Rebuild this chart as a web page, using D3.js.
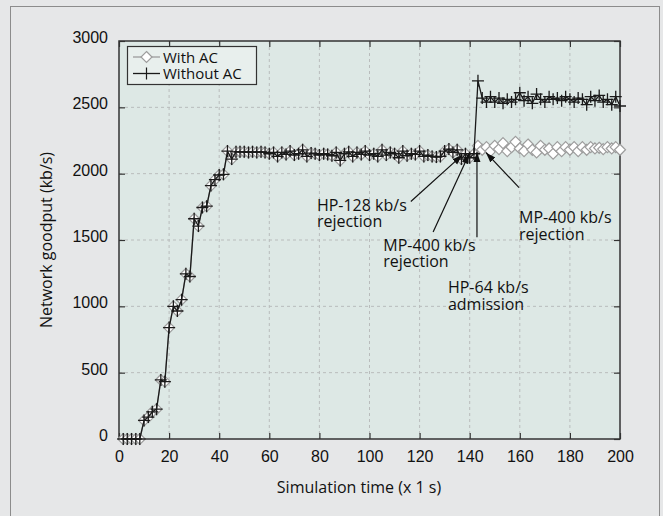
<!DOCTYPE html>
<html>
<head>
<meta charset="utf-8">
<script src="https://cdn.jsdelivr.net/npm/d3@7"></script>
<style>
  body { margin: 0; background: #e6e7e8; }
  svg { display: block; font-family: "Open Sans", "Noto Sans", sans-serif; }
</style>
</head>
<body>
<div id="chart"></div>
<script>
const W = 663, H = 516;
const margin = { top: 41, right: 43, bottom: 77, left: 119 };
const width = W - margin.left - margin.right;
const height = H - margin.top - margin.bottom;
const fontSize = "16px";

// sample times (s)
const times = [1.7, 3.3, 5, 6.7, 8.3, 10, 11.7, 13.3, 15, 16.7, 18.3, 20, 21.7, 23.3, 25, 26.7, 28.3, 30, 31.7, 33.3, 35, 36.7, 38.3, 40, 41.7, 43.3, 45, 46.7, 48.3, 50,
  51.7, 53.3, 55, 56.7, 58.3, 60, 61.7, 63.3, 65, 66.7, 68.3, 70, 71.7, 73.3, 75, 76.7, 78.3, 80, 81.7, 83.3, 85, 86.7, 88.3, 90, 91.7, 93.3, 95, 96.7, 98.3, 100,
  101.7, 103.3, 105, 106.7, 108.3, 110, 111.7, 113.3, 115, 116.7, 118.3, 120, 121.7, 123.3, 125, 126.7, 128.3, 130, 131.7, 133.3, 135, 136.7, 138.3, 140, 141.7,
  143.3, 145, 146.7, 148.3, 150, 151.7, 153.3, 155, 156.7, 158.3, 160, 161.7, 163.3, 165, 166.7, 168.3, 170, 171.7, 173.3, 175, 176.7, 178.3, 180,
  181.7, 183.3, 185, 186.7, 188.3, 190, 191.7, 193.3, 195, 196.7, 198.3, 200];

// goodput up to t = 141.7 s, identical for both cases
const sharedGoodput = [0, 0, 0, 0, 0, 140, 165, 205, 225, 445, 432, 840, 1000, 965, 1050, 1245, 1225, 1660, 1605, 1745, 1755, 1910, 1955, 1990, 1995, 2170, 2110, 2165, 2165, 2165,
  2160, 2165, 2160, 2165, 2160, 2150, 2160, 2130, 2160, 2145, 2170, 2140, 2150, 2180, 2130, 2155, 2150, 2140, 2150, 2145, 2135, 2160, 2100, 2150, 2165, 2130, 2160, 2145, 2170, 2140,
  2150, 2130, 2180, 2140, 2160, 2150, 2120, 2170, 2135, 2150, 2145, 2170, 2130, 2140, 2130, 2125, 2130, 2170, 2185, 2160, 2180, 2110, 2150, 2120, 2150];

// after t = 141.7 s
const withoutACTail = [2700, 2570, 2540, 2580, 2540, 2570, 2530, 2560, 2540, 2560, 2610, 2550, 2580, 2530, 2600, 2560, 2540, 2580, 2560, 2570, 2550, 2580, 2560,
  2540, 2570, 2560, 2520, 2580, 2550, 2590, 2540, 2560, 2520, 2580, 2510];
const withACTail = [2210, 2180, 2200, 2170, 2210, 2185, 2230, 2170, 2200, 2240, 2190, 2170, 2220, 2180, 2160, 2210, 2180, 2190, 2150, 2200, 2170, 2200, 2180,
  2200, 2170, 2200, 2180, 2200, 2190, 2195, 2185, 2200, 2190, 2200, 2180];

const xTicks = [0, 20, 40, 60, 80, 100, 120, 140, 160, 180, 200];
const yTicks = [0, 500, 1000, 1500, 2000, 2500, 3000];

const seriesNames = ["With AC", "Without AC"];

const annotations = [
  { lines: ["HP-128 kb/s", "rejection"], tx: 79, ty: 1720, from: [116.5, 1790], to: [137, 2140] },
  { lines: ["MP-400 kb/s", "rejection"], tx: 105.5, ty: 1418, from: [125.4, 1560], to: [139.8, 2150] },
  { lines: ["HP-64 kb/s", "admission"], tx: 131.3, ty: 1100, from: [142.9, 1520], to: [142.9, 2163] },
  { lines: ["MP-400 kb/s", "rejection"], tx: 159.7, ty: 1628, from: [159.7, 1895], to: [146.5, 2158] }
];

const withoutAC = times.map((t, i) => ({ t: t, v: i < sharedGoodput.length ? sharedGoodput[i] : withoutACTail[i - sharedGoodput.length] }));
const withAC = times.map((t, i) => ({ t: t, v: i < sharedGoodput.length ? sharedGoodput[i] : withACTail[i - sharedGoodput.length] }));

const x = d3.scaleLinear().domain([0, 200]).range([0, width]);
const y = d3.scaleLinear().domain([0, 3000]).range([height, 0]);

const svg = d3.select("#chart").append("svg")
  .attr("width", W)
  .attr("height", H);

// outer frame
svg.append("rect")
  .attr("x", 10.5).attr("y", 6.5)
  .attr("width", 649).attr("height", H)
  .attr("fill", "#e6e7e8")
  .attr("stroke", "#8c8c8c");

svg.append("defs").append("marker")
  .attr("id", "arrow")
  .attr("markerUnits", "userSpaceOnUse")
  .attr("markerWidth", 11).attr("markerHeight", 8)
  .attr("refX", 10).attr("refY", 3.5)
  .attr("orient", "auto")
  .append("path")
  .attr("d", "M0,0 L10,3.5 L0,7 Z")
  .attr("fill", "#111");

const g = svg.append("g")
  .attr("transform", `translate(${margin.left},${margin.top})`);

g.append("rect")
  .attr("width", width).attr("height", height)
  .attr("fill", "#dde8e5");

// grid
g.append("g").selectAll("line")
  .data(xTicks.slice(1, -1))
  .enter().append("line")
  .attr("x1", d => x(d)).attr("x2", d => x(d))
  .attr("y1", 0).attr("y2", height)
  .attr("stroke", "#b9bcbc").attr("stroke-dasharray", "3,3");
g.append("g").selectAll("line")
  .data(yTicks.slice(1, -1))
  .enter().append("line")
  .attr("y1", d => y(d)).attr("y2", d => y(d))
  .attr("x1", 0).attr("x2", width)
  .attr("stroke", "#b9bcbc").attr("stroke-dasharray", "3,3");

// axes, ticks pointing inward on all sides
const axisColor = "#333";
function styleAxis(sel) {
  sel.select(".domain").remove();
  sel.selectAll(".tick line").attr("stroke", axisColor).attr("stroke-width", 1.2);
  sel.selectAll(".tick text").attr("fill", "#111").style("font-size", fontSize);
}
g.append("g")
  .attr("transform", `translate(0,${height})`)
  .call(d3.axisBottom(x).tickValues(xTicks).tickSizeInner(-6).tickSizeOuter(0).tickPadding(12))
  .call(styleAxis);
g.append("g")
  .call(d3.axisTop(x).tickValues(xTicks).tickSizeInner(-6).tickSizeOuter(0).tickFormat(""))
  .call(styleAxis);
g.append("g")
  .call(d3.axisLeft(y).tickValues(yTicks).tickSizeInner(-6).tickSizeOuter(0).tickPadding(11).tickFormat(d3.format("d")))
  .call(styleAxis)
  .selectAll(".tick text").attr("dy", "0.1em");
g.append("g")
  .attr("transform", `translate(${width},0)`)
  .call(d3.axisRight(y).tickValues(yTicks).tickSizeInner(-6).tickSizeOuter(0).tickFormat(""))
  .call(styleAxis);

g.append("rect")
  .attr("width", width).attr("height", height)
  .attr("fill", "none")
  .attr("stroke", axisColor).attr("stroke-width", 1.5);

const line = d3.line().x(d => x(d.t)).y(d => y(d.v));
const diamond = "M0,-5.5 L5.5,0 L0,5.5 L-5.5,0 Z";
const plus = "M-6,0 H6 M0,-6 V6";

// With AC (gray, diamonds)
g.append("path")
  .datum(withAC)
  .attr("d", line)
  .attr("fill", "none")
  .attr("stroke", "#9d9d9d")
  .attr("stroke-width", 1.3);
g.append("g").selectAll("path")
  .data(withAC)
  .enter().append("path")
  .attr("transform", d => `translate(${x(d.t)},${y(d.v)})`)
  .attr("d", diamond)
  .attr("fill", "#fff")
  .attr("stroke", "#9d9d9d")
  .attr("stroke-width", 1.2);

// Without AC (black, plus)
g.append("path")
  .datum(withoutAC)
  .attr("d", line)
  .attr("fill", "none")
  .attr("stroke", "#1a1a1a")
  .attr("stroke-width", 1.3);
g.append("g").selectAll("path")
  .data(withoutAC)
  .enter().append("path")
  .attr("transform", d => `translate(${x(d.t)},${y(d.v)})`)
  .attr("d", plus)
  .attr("stroke", "#1a1a1a")
  .attr("stroke-width", 1.3);

// annotations
const ann = g.append("g").style("font-size", fontSize).attr("fill", "#111");
annotations.forEach(a => {
  ann.append("line")
    .attr("x1", x(a.from[0])).attr("y1", y(a.from[1]))
    .attr("x2", x(a.to[0])).attr("y2", y(a.to[1]))
    .attr("stroke", "#111").attr("stroke-width", 1.2)
    .attr("marker-end", "url(#arrow)");
  const txt = ann.append("text")
    .attr("x", x(a.tx)).attr("y", y(a.ty));
  a.lines.forEach((l, i) => {
    txt.append("tspan")
      .attr("x", x(a.tx))
      .attr("dy", i === 0 ? 0 : 16.5)
      .text(l);
  });
});

// legend
const legend = svg.append("g").attr("transform", "translate(127,46)");
legend.append("rect")
  .attr("x", 0.5).attr("y", 0.5)
  .attr("width", 129).attr("height", 38)
  .attr("fill", "#e8efed")
  .attr("stroke", "#333").attr("stroke-width", 1.2);
const rows = legend.selectAll(".row")
  .data(seriesNames)
  .enter().append("g")
  .attr("class", "row")
  .attr("transform", (d, i) => `translate(0,${11 + i * 16.5})`);
rows.append("line")
  .attr("x1", 6).attr("x2", 33)
  .attr("stroke", (d, i) => i === 0 ? "#9d9d9d" : "#1a1a1a")
  .attr("stroke-width", 1.3);
rows.append("path")
  .attr("transform", "translate(19.5,0)")
  .attr("d", (d, i) => i === 0 ? diamond : plus)
  .attr("fill", (d, i) => i === 0 ? "#fff" : "none")
  .attr("stroke", (d, i) => i === 0 ? "#9d9d9d" : "#1a1a1a")
  .attr("stroke-width", 1.2);
rows.append("text")
  .attr("x", 36).attr("y", 5.5)
  .style("font-size", "15px")
  .attr("fill", "#111")
  .text(d => d);

// axis titles
svg.append("text")
  .attr("x", 359).attr("y", 493)
  .attr("text-anchor", "middle")
  .style("font-size", fontSize)
  .attr("fill", "#111")
  .text("Simulation time (x 1 s)");
svg.append("text")
  .attr("transform", "translate(52,240) rotate(-90)")
  .attr("text-anchor", "middle")
  .style("font-size", fontSize)
  .attr("fill", "#111")
  .text("Network goodput (kb/s)");
</script>
</body>
</html>
